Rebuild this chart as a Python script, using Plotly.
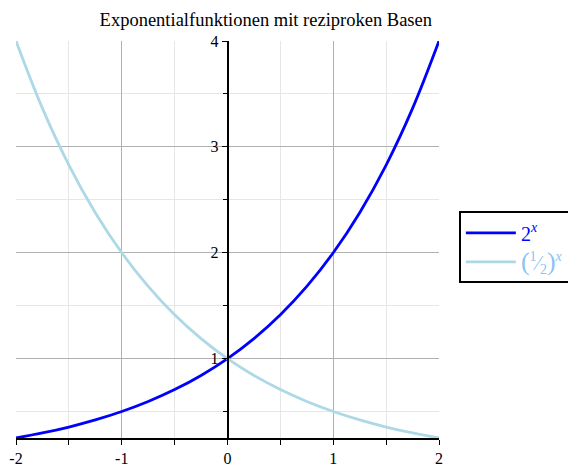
import plotly.graph_objects as go

x_vals = [-2, -1.75, -1.5, -1.25, -1, -0.75, -0.5, -0.25, 0, 0.25, 0.5, 0.75, 1, 1.25, 1.5, 1.75, 2]
pow2_vals = [0.25, 0.2973, 0.3536, 0.4204, 0.5, 0.5946, 0.7071, 0.8409, 1.0,
             1.1892, 1.4142, 1.6818, 2.0, 2.3784, 2.8284, 3.3636, 4.0]
half_vals = [4.0, 3.3636, 2.8284, 2.3784, 2.0, 1.6818, 1.4142, 1.1892, 1.0,
             0.8409, 0.7071, 0.5946, 0.5, 0.4204, 0.3536, 0.2973, 0.25]
x_ticks = [-2, -1, 0, 1, 2]
x_tick_labels = ["-2", "-1", "0", "1", "2"]
y_ticks = [1, 2, 3, 4]
y_tick_labels = ["1", "2", "3", "4"]

FONT = "Liberation Serif, Times New Roman, serif"

fig = go.Figure()
fig.add_trace(go.Scatter(x=x_vals, y=pow2_vals, mode="lines", line=dict(color="#0000FF", width=2.8, shape="spline"),
                         name="<span style='color:#0000FF'>2<sup><i>x</i></sup></span>"))
fig.add_trace(go.Scatter(x=x_vals, y=half_vals, mode="lines", line=dict(color="#ADD8E6", width=2.8, shape="spline"),
                         name="<span style='color:#8CC4F0'><span style='font-size:26px'>(</span>"
                              "<sup>1</sup>⁄<sub>2</sub><span style='font-size:26px'>)</span>"
                              "<sup><i>x</i></sup></span>"))

fig.update_layout(
    template="none",
    width=568, height=466,
    margin=dict(l=16, r=129, t=41, b=28, autoexpand=False),
    paper_bgcolor="white", plot_bgcolor="white",
    font=dict(family=FONT, size=16, color="black"),
    title=dict(text="Exponentialfunktionen mit reziproken Basen", xref="container", x=0.468, xanchor="center",
               yref="container", y=0.959, yanchor="middle", font=dict(family=FONT, size=18.5, color="black")),
    legend=dict(x=1.047, xanchor="left", y=0.48, yanchor="middle", bordercolor="black", borderwidth=2,
                bgcolor="white", font=dict(family=FONT, size=20), tracegroupgap=6, itemwidth=50),
    xaxis=dict(range=[-2, 2], tickvals=x_ticks, ticktext=x_tick_labels, showgrid=True, gridcolor="#B0B0B0",
               gridwidth=1, zeroline=False, showline=True, linecolor="black", linewidth=1.5, automargin=False,
               ticks="outside", ticklen=5, tickcolor="black", tickwidth=1, tickfont=dict(size=16),
               minor=dict(dtick=0.5, tick0=0, showgrid=True, gridcolor="#E6E6E6", ticks="outside", ticklen=5,
                          tickcolor="black")),
    yaxis=dict(range=[0.25, 4], tickvals=y_ticks, ticktext=y_tick_labels, showgrid=True, gridcolor="#B0B0B0",
               gridwidth=1, zeroline=False, showline=True, linecolor="black", linewidth=1.5, automargin=False,
               anchor="free", position=0.5, side="left", tickfont=dict(size=16),
               ticks="outside", ticklen=5, tickcolor="black", tickwidth=1,
               minor=dict(dtick=0.5, tick0=0, showgrid=True, gridcolor="#E6E6E6", ticks="outside", ticklen=4,
                          tickcolor="black")),
)

fig.write_html("out.html", config={"displayModeBar": False},
               post_script="document.body.style.margin='0';document.body.style.overflow='hidden';")
